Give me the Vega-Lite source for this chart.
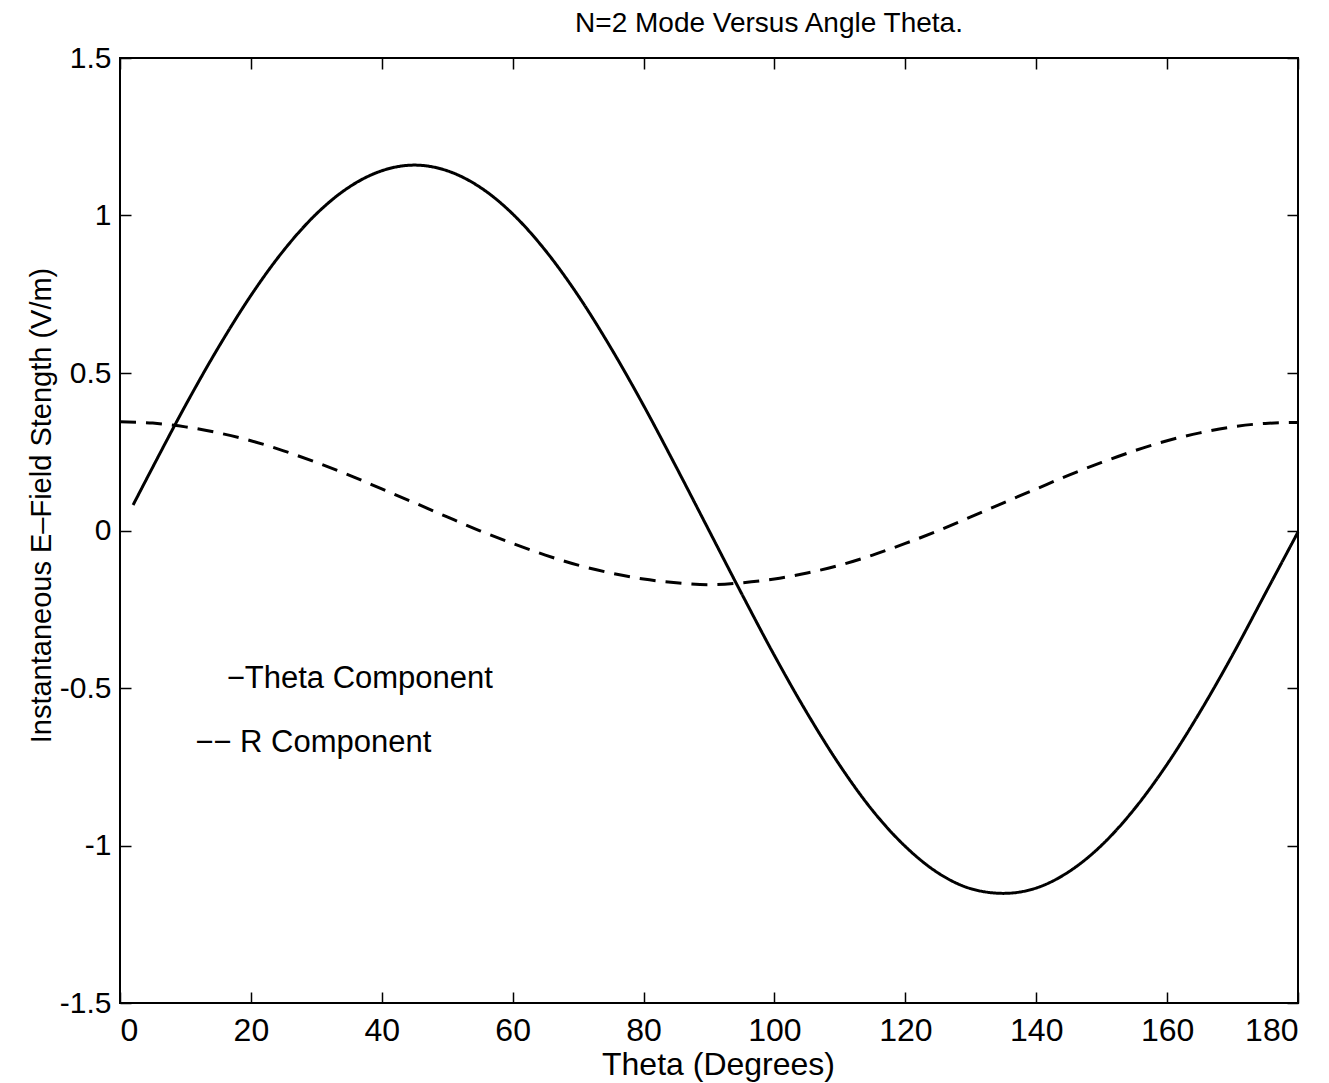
{
  "$schema": "https://vega.github.io/schema/vega-lite/v6.json",
  "width": 1178,
  "height": 945,
  "autosize": {"type": "none"},
  "padding": {"left": 120, "top": 58, "right": 31, "bottom": 80},
  "background": "white",
  "config": {
    "view": {"stroke": "black", "strokeWidth": 2},
    "font": "Liberation Sans",
    "axis": {"grid": false, "domain": false, "labelColor": "black", "tickColor": "black", "titleColor": "black", "titleFontWeight": "normal", "labelFont": "Liberation Sans", "titleFont": "Liberation Sans"}
  },
  "title": {"text": "N=2 Mode Versus Angle Theta.", "fontSize": 28, "fontWeight": "normal", "font": "Liberation Sans", "color": "black", "anchor": "middle", "dx": 60, "offset": 5},
  "datasets": {
    "curves": [
      {"theta": 2, "value": 0.081, "series": "Theta"},
      {"theta": 5, "value": 0.201, "series": "Theta"},
      {"theta": 10, "value": 0.397, "series": "Theta"},
      {"theta": 15, "value": 0.580, "series": "Theta"},
      {"theta": 20, "value": 0.746, "series": "Theta"},
      {"theta": 25, "value": 0.889, "series": "Theta"},
      {"theta": 30, "value": 1.005, "series": "Theta"},
      {"theta": 35, "value": 1.090, "series": "Theta"},
      {"theta": 40, "value": 1.142, "series": "Theta"},
      {"theta": 45, "value": 1.160, "series": "Theta"},
      {"theta": 50, "value": 1.142, "series": "Theta"},
      {"theta": 55, "value": 1.090, "series": "Theta"},
      {"theta": 60, "value": 1.005, "series": "Theta"},
      {"theta": 65, "value": 0.889, "series": "Theta"},
      {"theta": 70, "value": 0.746, "series": "Theta"},
      {"theta": 75, "value": 0.580, "series": "Theta"},
      {"theta": 80, "value": 0.397, "series": "Theta"},
      {"theta": 85, "value": 0.201, "series": "Theta"},
      {"theta": 90, "value": 0.000, "series": "Theta"},
      {"theta": 95, "value": -0.201, "series": "Theta"},
      {"theta": 100, "value": -0.397, "series": "Theta"},
      {"theta": 105, "value": -0.580, "series": "Theta"},
      {"theta": 110, "value": -0.746, "series": "Theta"},
      {"theta": 115, "value": -0.889, "series": "Theta"},
      {"theta": 120, "value": -1.003, "series": "Theta"},
      {"theta": 125, "value": -1.087, "series": "Theta"},
      {"theta": 130, "value": -1.137, "series": "Theta"},
      {"theta": 135, "value": -1.152, "series": "Theta"},
      {"theta": 140, "value": -1.135, "series": "Theta"},
      {"theta": 145, "value": -1.083, "series": "Theta"},
      {"theta": 150, "value": -0.999, "series": "Theta"},
      {"theta": 155, "value": -0.884, "series": "Theta"},
      {"theta": 160, "value": -0.742, "series": "Theta"},
      {"theta": 165, "value": -0.577, "series": "Theta"},
      {"theta": 170, "value": -0.395, "series": "Theta"},
      {"theta": 175, "value": -0.200, "series": "Theta"},
      {"theta": 180, "value": -0.005, "series": "Theta"},
      {"theta": 0, "value": 0.345, "series": "R"},
      {"theta": 5, "value": 0.341, "series": "R"},
      {"theta": 10, "value": 0.329, "series": "R"},
      {"theta": 15, "value": 0.310, "series": "R"},
      {"theta": 20, "value": 0.285, "series": "R"},
      {"theta": 25, "value": 0.253, "series": "R"},
      {"theta": 30, "value": 0.216, "series": "R"},
      {"theta": 35, "value": 0.176, "series": "R"},
      {"theta": 40, "value": 0.132, "series": "R"},
      {"theta": 45, "value": 0.088, "series": "R"},
      {"theta": 50, "value": 0.043, "series": "R"},
      {"theta": 55, "value": -0.001, "series": "R"},
      {"theta": 60, "value": -0.041, "series": "R"},
      {"theta": 65, "value": -0.078, "series": "R"},
      {"theta": 70, "value": -0.110, "series": "R"},
      {"theta": 75, "value": -0.135, "series": "R"},
      {"theta": 80, "value": -0.154, "series": "R"},
      {"theta": 85, "value": -0.166, "series": "R"},
      {"theta": 90, "value": -0.172, "series": "R"},
      {"theta": 95, "value": -0.166, "series": "R"},
      {"theta": 100, "value": -0.154, "series": "R"},
      {"theta": 105, "value": -0.135, "series": "R"},
      {"theta": 110, "value": -0.110, "series": "R"},
      {"theta": 115, "value": -0.078, "series": "R"},
      {"theta": 120, "value": -0.041, "series": "R"},
      {"theta": 125, "value": -0.001, "series": "R"},
      {"theta": 130, "value": 0.043, "series": "R"},
      {"theta": 135, "value": 0.088, "series": "R"},
      {"theta": 140, "value": 0.132, "series": "R"},
      {"theta": 145, "value": 0.176, "series": "R"},
      {"theta": 150, "value": 0.216, "series": "R"},
      {"theta": 155, "value": 0.253, "series": "R"},
      {"theta": 160, "value": 0.285, "series": "R"},
      {"theta": 165, "value": 0.310, "series": "R"},
      {"theta": 170, "value": 0.329, "series": "R"},
      {"theta": 175, "value": 0.340, "series": "R"},
      {"theta": 180, "value": 0.343, "series": "R"}
    ]
  },
  "layer": [
    {
      "data": {"name": "curves"},
      "mark": {"type": "line", "color": "black", "strokeWidth": 3, "interpolate": "monotone"},
      "encoding": {
        "x": {"field": "theta", "type": "quantitative", "scale": {"domain": [0, 180], "nice": false, "zero": false},
              "axis": {"orient": "bottom", "values": [0, 20, 40, 60, 80, 100, 120, 140, 160, 180], "format": "d", "labelFontSize": 32, "tickSize": -11, "tickWidth": 1.5, "labelPadding": 23, "labelBaseline": "top",
                       "title": "Theta (Degrees)", "titleFontSize": 32, "titleBaseline": "alphabetic", "titleX": 598, "titleY": 71}},
        "y": {"field": "value", "type": "quantitative", "scale": {"domain": [-1.5, 1.5], "nice": false, "zero": false},
              "axis": {"orient": "left", "values": [-1.5, -1, -0.5, 0, 0.5, 1, 1.5], "format": "~g", "labelExpr": "replace(datum.label, '\u2212', '-')", "labelFontSize": 30, "tickSize": -11, "tickWidth": 1.5, "labelPadding": 20,
                       "title": "Instantaneous E\u2013Field Stength (V/m)", "titleFontSize": 29, "titleBaseline": "bottom", "titleAngle": 270, "titleX": -64, "titleY": 447}},
        "strokeDash": {"field": "series", "type": "nominal", "scale": {"domain": ["Theta", "R"], "range": [[1, 0], [16, 10]]}, "legend": null}
      }
    },
    {
      "data": {"name": "curves"},
      "mark": {"type": "point", "opacity": 0},
      "encoding": {
        "x": {"field": "theta", "type": "quantitative", "axis": {"orient": "top", "values": [0, 20, 40, 60, 80, 100, 120, 140, 160, 180], "labels": false, "title": null, "tickSize": -11, "tickWidth": 1.5}},
        "y": {"field": "value", "type": "quantitative", "axis": {"orient": "right", "values": [-1.5, -1, -0.5, 0, 0.5, 1, 1.5], "labels": false, "title": null, "tickSize": -11, "tickWidth": 1.5}}
      }
    },
    {
      "data": {"values": [{}]},
      "mark": {"type": "text", "text": "\u2212Theta Component", "align": "left", "baseline": "middle", "fontSize": 31, "font": "Liberation Sans", "color": "black"},
      "encoding": {
        "x": {"datum": 16.3, "type": "quantitative", "axis": null},
        "y": {"datum": -0.473, "type": "quantitative", "axis": null}
      }
    },
    {
      "data": {"values": [{}]},
      "mark": {"type": "text", "text": "\u2212\u2212 R Component", "align": "left", "baseline": "middle", "fontSize": 31, "font": "Liberation Sans", "color": "black"},
      "encoding": {
        "x": {"datum": 11.5, "type": "quantitative", "axis": null},
        "y": {"datum": -0.676, "type": "quantitative", "axis": null}
      }
    }
  ],
  "resolve": {"axis": {"x": "independent", "y": "independent"}}
}
